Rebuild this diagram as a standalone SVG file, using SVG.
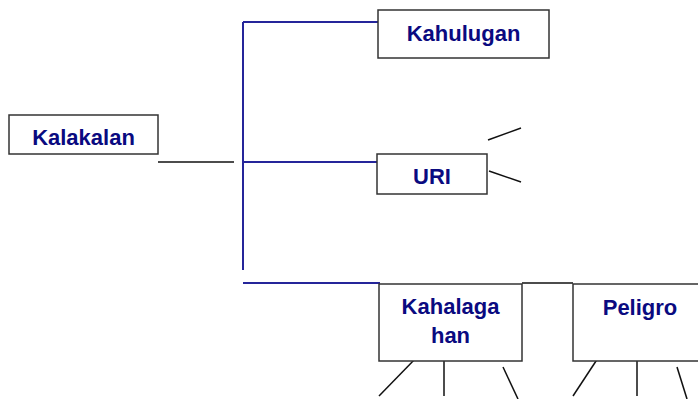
<svg xmlns="http://www.w3.org/2000/svg" width="698" height="399" viewBox="0 0 698 399">
<style>
.box{fill:#fff;stroke:#333;stroke-width:1.5}
.lbl{font-family:"Liberation Sans",Arial,sans-serif;font-weight:bold;font-size:22px;fill:#0a0a80;text-anchor:middle}
.blue{stroke:#25259a;stroke-width:2;fill:none}
.blk{stroke:#111;stroke-width:1.5;fill:none}
</style>
<rect width="698" height="399" fill="#fff"/>
<g id="connectors">
<line class="blk" x1="158" y1="162" x2="234" y2="162"/>
<line class="blue" x1="243" y1="22" x2="243" y2="270"/>
<line class="blue" x1="243" y1="22" x2="378" y2="22"/>
<line class="blue" x1="243" y1="162" x2="377" y2="162"/>
<line class="blue" x1="243" y1="283" x2="380" y2="283"/>
<line class="blk" x1="522" y1="283" x2="573" y2="283"/>
<line class="blk" x1="488" y1="140" x2="521" y2="128"/>
<line class="blk" x1="489" y1="171" x2="521" y2="182"/>
<line class="blk" x1="416" y1="358" x2="379" y2="396"/>
<line class="blk" x1="444" y1="358" x2="444" y2="396"/>
<line class="blk" x1="503" y1="367" x2="518" y2="399"/>
<line class="blk" x1="598" y1="358" x2="573" y2="396"/>
<line class="blk" x1="637" y1="358" x2="637" y2="396"/>
<line class="blk" x1="677" y1="367" x2="687" y2="399"/>
</g>
<g id="kalakalan">
<rect class="box" x="9" y="115" width="149" height="39"/>
<text class="lbl" x="83.5" y="145">Kalakalan</text>
</g>
<g id="kahulugan">
<rect class="box" x="378" y="10" width="171" height="48"/>
<text class="lbl" x="463.5" y="41">Kahulugan</text>
</g>
<g id="uri">
<rect class="box" x="377" y="154" width="110" height="40"/>
<text class="lbl" x="432" y="184">URI</text>
</g>
<g id="kahalagahan">
<rect class="box" x="379" y="284" width="143" height="77"/>
<text class="lbl" x="450.5" y="314">Kahalaga</text>
<text class="lbl" x="450.5" y="343">han</text>
</g>
<g id="peligro">
<rect class="box" x="573" y="284" width="134" height="77"/>
<text class="lbl" x="640" y="315">Peligro</text>
</g>
</svg>
